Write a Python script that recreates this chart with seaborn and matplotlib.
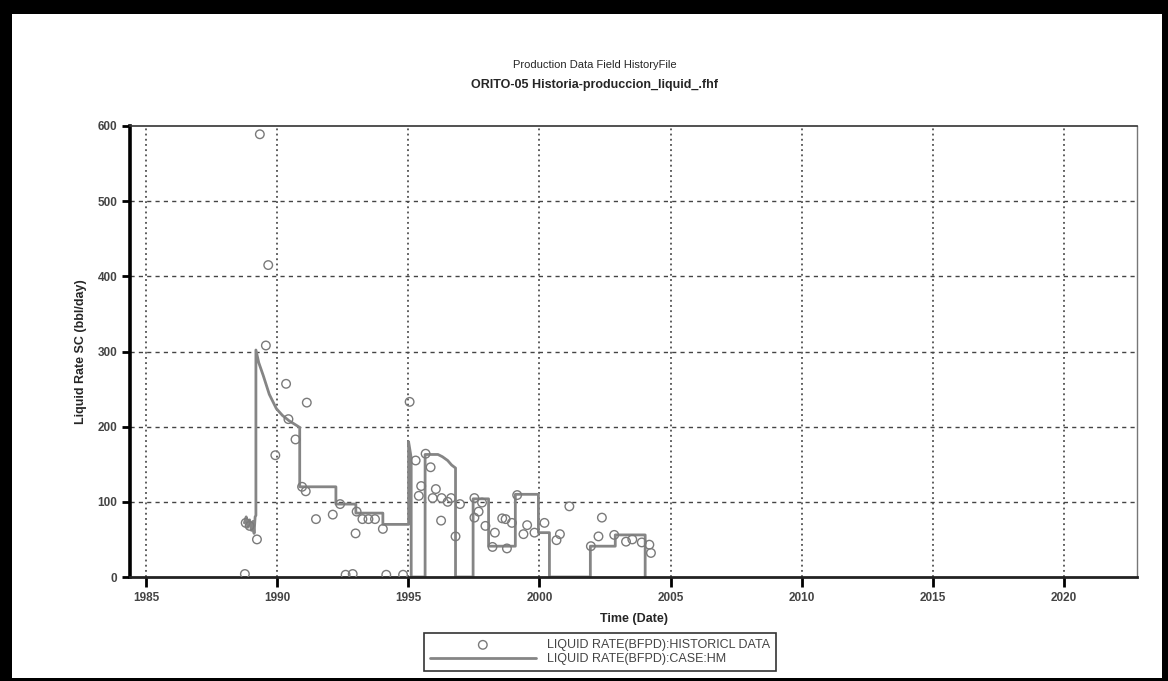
import numpy as np
import pandas as pd
import matplotlib
matplotlib.use('Agg')
import matplotlib.pyplot as plt
from matplotlib.patches import Rectangle
import seaborn as sns

# Historical liquid rate points (decimal year, bbl/day)
hist_year = [1988.77, 1988.80, 1988.95, 1989.23, 1989.34, 1989.57, 1989.66, 1989.93,
             1990.34, 1990.43, 1990.70, 1991.13, 1990.95, 1991.09, 1991.48, 1992.12,
             1992.40, 1992.61, 1992.88, 1992.99, 1993.03, 1993.25, 1993.48, 1993.73,
             1994.03, 1994.16, 1994.80, 1995.05, 1995.28, 1995.40, 1995.49, 1995.66,
             1995.85, 1995.93, 1996.05, 1996.27, 1996.50, 1996.63, 1996.25, 1996.80,
             1996.97, 1997.52, 1997.52, 1997.68, 1997.81, 1997.94, 1998.21, 1998.30,
             1998.58, 1998.71, 1998.76, 1998.95, 1999.15, 1999.39, 1999.53, 1999.81,
             2000.19, 2000.65, 2000.78, 2001.14, 2001.96, 2002.25, 2002.38, 2002.85,
             2003.30, 2003.54, 2003.90, 2004.19, 2004.25]
hist_rate = [4, 72, 68, 50, 589, 308, 415, 162,
             257, 210, 183, 232, 120, 114, 77, 83,
             97, 3, 4, 58, 87, 77, 77, 77,
             64, 3, 3, 233, 155, 108, 121, 164,
             146, 105, 117, 105, 100, 105, 75, 54,
             97, 105, 79, 87, 99, 68, 40, 59,
             78, 77, 38, 72, 109, 57, 69, 59,
             72, 49, 57, 94, 41, 54, 79, 56,
             47, 50, 46, 43, 32]

# Simulated case HM (vertices of the stepped line)
sim_year = [1988.75, 1988.82, 1988.88, 1988.95, 1989.02, 1989.08, 1989.12, 1989.16, 1989.19,
            1989.19, 1989.30, 1989.47, 1989.70, 1989.97, 1990.20, 1990.45, 1990.86,
            1990.86, 1992.24, 1992.24, 1993.00, 1993.00, 1994.03, 1994.03, 1995.01,
            1995.01, 1995.08, 1995.11, 1995.11, 1995.64, 1995.64, 1996.13, 1996.30,
            1996.50, 1996.65, 1996.80, 1996.80, 1997.47, 1997.47, 1998.06, 1998.06,
            1999.08, 1999.08, 1999.96, 1999.96, 2000.38, 2000.38, 2001.94, 2001.94,
            2002.89, 2002.89, 2004.03, 2004.03]
sim_rate = [72, 80, 66, 76, 62, 74, 58, 80, 82,
            302, 285, 268, 243, 224, 215, 208, 199,
            120, 120, 97, 97, 85, 85, 70, 70,
            180, 165, 158, 0, 0, 163, 163, 160,
            155, 149, 145, 0, 0, 104, 104, 41,
            41, 110, 110, 59, 59, 0, 0, 41,
            41, 56, 56, 0]

x_ticks = [1985, 1990, 1995, 2000, 2005, 2010, 2015, 2020]
y_ticks = [0, 100, 200, 300, 400, 500, 600]

hist = pd.DataFrame({'year': hist_year, 'rate': hist_rate})
sim = pd.DataFrame({'year': sim_year, 'rate': sim_rate})

sns.set_style('white')
plt.rcParams['font.family'] = ['Liberation Sans', 'DejaVu Sans']

fig = plt.figure(figsize=(11.68, 6.81), dpi=100)
fig.patch.set_facecolor('black')
fig.add_artist(Rectangle((12 / 1168, 3 / 681), 1150 / 1168, 664 / 681,
                         transform=fig.transFigure, facecolor='white',
                         edgecolor='none', zorder=-5))

ax = fig.add_axes([130 / 1168, 104 / 681, 1007 / 1168, 451 / 681])
ax.set_facecolor('white')

sns.lineplot(data=sim, x='year', y='rate', ax=ax, sort=False, estimator=None,
             color='#858585', linewidth=2, label='LIQUID RATE(BFPD):CASE:HM', zorder=2.2)
sns.scatterplot(data=hist, x='year', y='rate', ax=ax, marker='o', s=38,
                facecolor='none', edgecolor='#7a7a7a', linewidth=1,
                label='LIQUID RATE(BFPD):HISTORICL DATA', zorder=4)

ax.set_xlim(1984.39, 2022.78)
ax.set_ylim(0, 600)
ax.set_xticks(x_ticks)
ax.set_yticks(y_ticks)

# grid: dotted verticals, dashed horizontals
for xv in x_ticks:
    ax.axvline(xv, color='#333333', linestyle=(0, (1.2, 2.2)), linewidth=1.1, zorder=1)
for yv in y_ticks[1:-1]:
    ax.axhline(yv, color='#444444', linestyle=(0, (3, 3)), linewidth=1, zorder=1)

ax.spines['left'].set_linewidth(2.6)
ax.spines['left'].set_color('black')
ax.spines['bottom'].set_linewidth(2)
ax.spines['bottom'].set_color('#222222')
ax.spines['top'].set_linewidth(1.2)
ax.spines['top'].set_color('#333333')
ax.spines['right'].set_linewidth(1)
ax.spines['right'].set_color('#777777')

ax.tick_params(axis='x', direction='out', length=7, width=2, color='black',
               labelsize=8.5, labelcolor='#444444', pad=4, bottom=True)
ax.tick_params(axis='y', direction='out', length=6, width=2, color='black',
               labelsize=8.5, labelcolor='#444444', pad=3, left=True)
for lab in ax.get_xticklabels() + ax.get_yticklabels():
    lab.set_fontweight('bold')

ax.set_xlabel('Time (Date)', fontsize=9, fontweight='bold', labelpad=6)
ax.set_ylabel('Liquid Rate SC (bbl/day)', fontsize=9, fontweight='bold', labelpad=8)

fig.text(0.509, 0.905, 'Production Data Field HistoryFile', ha='center',
         va='center', fontsize=8)
fig.text(0.509, 0.875, 'ORITO-05 Historia-produccion_liquid_.fhf', ha='center',
         va='center', fontsize=9, fontweight='bold')

handles, labels = ax.get_legend_handles_labels()
order = [1, 0]
leg = ax.legend([handles[i] for i in order], [labels[i] for i in order],
                loc='center', bbox_to_anchor=(0.5137, 0.0425),
                bbox_transform=fig.transFigure, fontsize=9, frameon=True,
                fancybox=False, edgecolor='black', handlelength=8.5,
                borderpad=0.45, labelspacing=0.15, handletextpad=0.9,
                borderaxespad=0)
leg.get_frame().set_linewidth(1.2)
for t in leg.get_texts():
    t.set_color('#444444')

fig.savefig('out.png', dpi=100, facecolor=fig.get_facecolor())
